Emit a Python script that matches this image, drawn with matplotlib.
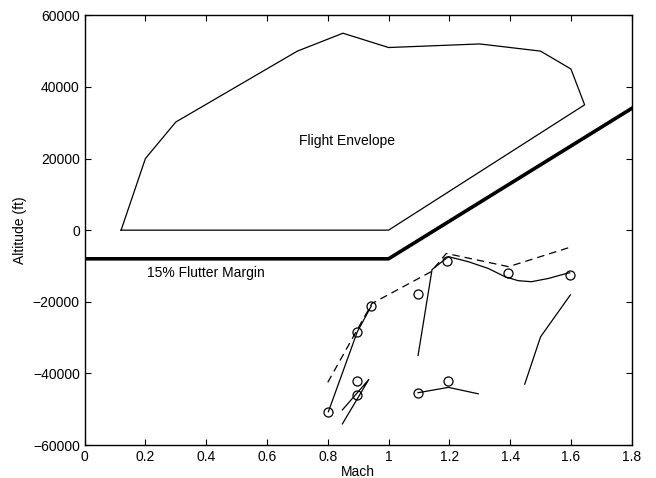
import numpy as np
import matplotlib
matplotlib.use('agg')
import matplotlib.pyplot as plt

plt.rcParams['font.family'] = ['Liberation Sans', 'DejaVu Sans']

# flight envelope boundary (Mach, altitude ft)
env_mach = [0.12, 0.2, 0.3, 0.7, 0.85, 1.0, 1.3, 1.5, 1.6, 1.645, 1.0, 0.12]
env_alt = [0, 20000, 30200, 50000, 55000, 51000, 52000, 50000, 45000, 35000, 0, 0]

# 15% flutter margin
margin_mach = [0, 1.0, 1.8]
margin_alt = [-8000, -8000, 34000]

# dashed boundary
dash_mach = [0.8, 0.945, 1.14, 1.19, 1.395, 1.6]
dash_alt = [-42500, -20500, -11600, -6500, -10200, -4700]

# solid branches
s1_mach = [0.802, 0.897, 0.943]
s1_alt = [-50700, -28400, -21200]
s2_mach = [0.848, 0.935, 0.848]
s2_alt = [-50200, -41700, -54100]
s3_mach = [1.097, 1.143, 1.197, 1.262, 1.328, 1.383, 1.426, 1.47, 1.525, 1.585, 1.596]
s3_alt = [-35000, -11000, -7400, -8800, -10700, -13000, -14100, -14400, -13500, -12100, -11900]
s4_mach = [1.448, 1.5, 1.598]
s4_alt = [-43000, -29800, -18100]
s5_mach = [1.097, 1.197, 1.295]
s5_alt = [-45400, -43900, -45700]

# test points
pt_mach = [0.8, 0.897, 0.943, 0.897, 0.897, 1.096, 1.193, 1.394, 1.596, 1.195, 1.097]
pt_alt = [-50800, -28400, -21200, -42000, -46000, -17700, -8700, -12100, -12550, -42000, -45400]

fig = plt.figure(figsize=(6.56, 4.78), dpi=100)
ax = fig.add_axes([0.129, 0.069, 0.834, 0.899])

ax.plot(env_mach, env_alt, 'k-', lw=0.9)
ax.plot(margin_mach, margin_alt, 'k-', lw=2.6)
ax.plot(dash_mach, dash_alt, 'k--', lw=0.9, dashes=(6, 4))
for xs, ys in [(s1_mach, s1_alt), (s2_mach, s2_alt), (s3_mach, s3_alt),
               (s4_mach, s4_alt), (s5_mach, s5_alt)]:
    ax.plot(xs, ys, 'k-', lw=0.9)
ax.plot(pt_mach, pt_alt, 'o', mfc='none', mec='k', ms=6.5, mew=0.9)

ax.text(0.864, 25000, 'Flight Envelope', ha='center', va='center', fontsize=10)
ax.text(0.40, -12000, '15% Flutter Margin', ha='center', va='center', fontsize=10)

ax.set_xlim(0, 1.8)
ax.set_ylim(-60000, 60000)
ax.set_xticks(np.arange(0, 1.81, 0.2))
ax.set_xticklabels(['0', '0.2', '0.4', '0.6', '0.8', '1', '1.2', '1.4', '1.6', '1.8'])
ax.set_yticks(np.arange(-60000, 60001, 20000))
ax.tick_params(direction='in', top=True, right=True, length=4, labelsize=10)
for s in ax.spines.values():
    s.set_linewidth(1.0)
ax.set_xlabel('Mach', fontsize=10, labelpad=0.5)
ax.set_ylabel('Altitude (ft)', fontsize=10, labelpad=4)

fig.savefig('out.png', dpi=100)
